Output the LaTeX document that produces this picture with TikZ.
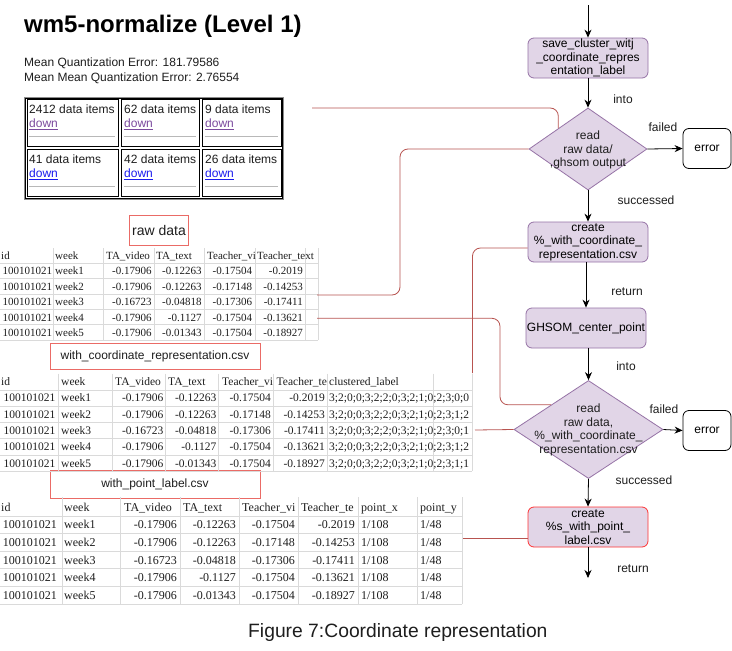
\documentclass[tikz,border=0pt]{standalone}
\usepackage{fontspec}
\setmainfont{Liberation Sans}
\newfontfamily\tabfont{Liberation Serif}
\usetikzlibrary{shapes.geometric,arrows.meta}
\definecolor{pfill}{HTML}{E1D5E7}
\definecolor{pdraw}{HTML}{9673A6}
\definecolor{connc}{HTML}{B85450}
\definecolor{lbox}{HTML}{EA6B66}
\definecolor{boxred}{HTML}{FF3333}
\definecolor{gridc}{HTML}{DADADA}
\definecolor{visitedc}{HTML}{7B4A9E}
\definecolor{linkc}{HTML}{1A1AEE}
\definecolor{txt}{HTML}{1E1E1E}
\begin{document}
\begin{tikzpicture}[x=1pt,y=-1pt,
  f12/.style={font=\fontsize{12}{13.5}\selectfont},
  proc/.style={f12, rectangle, rounded corners=6pt, draw=pdraw, fill=pfill, line width=0.8pt,
    minimum width=120pt, minimum height=40pt, align=center, inner sep=0pt},
  dec/.style={diamond, draw=pdraw, fill=pfill, line width=0.8pt, inner sep=0pt},
  errbox/.style={f12, rectangle, rounded corners=6pt, draw=black, fill=white, line width=0.8pt,
    minimum width=48pt, minimum height=40pt, inner sep=0pt},
  lab/.style={f12, inner sep=0pt, text=txt},
  flow/.style={-{Stealth[length=8pt,width=7pt]}, line width=0.8pt, black},
  conn/.style={draw=connc, line width=0.8pt, rounded corners=8pt},
  fname/.style={draw=lbox, line width=0.8pt, font=\fontsize{12}{14}\selectfont, inner sep=0pt, text=txt},
  gridline/.style={draw=gridc, line width=0.6pt},
  cellbox/.style={draw=black, line width=0.7pt},
  hrule/.style={draw=black!28, line width=1pt},
  tA/.style={font=\tabfont\fontsize{11}{12}\selectfont, inner sep=0pt, text=txt},
  tB/.style={font=\tabfont\fontsize{11.5}{12}\selectfont, inner sep=0pt, text=txt},
  tC/.style={font=\tabfont\fontsize{12}{13}\selectfont, inner sep=0pt, text=txt},
  gtext/.style={f12, inner sep=0pt, anchor=base west, text=txt}
]
\fill[white] (0,0) rectangle (732,651);
\useasboundingbox (0,0) rectangle (732,651);

% ---------- title ----------
\node[anchor=base west, inner sep=0pt, font=\bfseries\fontsize{24}{28}\selectfont, text=black] (title) at (24,32) {wm5-normalize (Level 1)};
\node[gtext] (mqe) at (24,66) {Mean Quantization Error: 181.79586};
\node[gtext] (mmqe) at (24,81) {Mean Mean Quantization Error: 2.76554};

% ---------- grid of clusters ----------
\draw[draw=black!45, line width=0.8pt] (24.4,97.4) rectangle (283.6,199.6);
\draw[draw=black, line width=0.7pt] (25.8,98.8) rectangle (282.2,198.2);
\foreach \xa/\xb [count=\c] in {26.9/118.3, 121.2/199.3, 202.2/281} {
  \foreach \ya/\yb/\hr [count=\r] in {99.6/146.5/136, 149/196.6/186} {
    \draw[cellbox] (\xa,\ya) rectangle (\xb,\yb);
    \draw[hrule] (\xa+2.5,\hr) -- (\xb-3,\hr);
  }
}
\node[gtext] (g11) at (29,113.3) {2412 data items};
\node[gtext] (g12) at (124,113.3) {62 data items};
\node[gtext] (g13) at (205,113.3) {9 data items};
\node[gtext] (g21) at (29,163.3) {41 data items};
\node[gtext] (g22) at (124,163.3) {42 data items};
\node[gtext] (g23) at (205,163.3) {26 data items};
\node[gtext, text=visitedc] (d11) at (29,127.7) {\underline{down}};
\node[gtext, text=visitedc] (d12) at (124,127.7) {\underline{down}};
\node[gtext, text=visitedc] (d13) at (205,127.7) {\underline{down}};
\node[gtext, text=linkc] (d21) at (29,177.3) {\underline{down}};
\node[gtext, text=linkc] (d22) at (124,177.3) {\underline{down}};
\node[gtext, text=linkc] (d23) at (205,177.3) {\underline{down}};

% ---------- file labels ----------
\node[fname, minimum width=59pt, minimum height=30pt, font=\fontsize{14}{16}\selectfont] (rawlab) at (159,230) {raw data};
\node[fname, minimum width=210pt, minimum height=26pt] (coordlab) at (155,356.3) {with\_coordinate\_representation.csv};
\node[fname, minimum width=210pt, minimum height=28pt] (pointlab) at (155,484.2) {with\_point\_label.csv};

% ---------- table 1 : raw data ----------
\foreach \i in {0,...,5} \draw[gridline] (0,263+15.4*\i) -- (318,263+15.4*\i);
\foreach \x in {53,103,154,204,255,305,318} \draw[gridline] (\x,248) -- (\x,340);
\node[tA, anchor=base west] (ah1) at (1,259.5) {id};
\node[tA, anchor=base west] (ah2) at (55,259.5) {week};
\node[tA, anchor=base west] (ah3) at (106,259.5) {TA\_video};
\node[tA, anchor=base west] (ah4) at (156,259.5) {TA\_text};
\node[tA, anchor=base west] (ah5) at (207,259.5) {Teacher\_vi};
\node[tA, anchor=base west] (ah6) at (257,259.5) {Teacher\_text};
\foreach \w/\a/\b/\c/\d [count=\i] in {week1/-0.17906/-0.12263/-0.17504/-0.2019,
    week2/-0.17906/-0.12263/-0.17148/-0.14253,
    week3/-0.16723/-0.04818/-0.17306/-0.17411,
    week4/-0.17906/-0.1127/-0.17504/-0.13621,
    week5/-0.17906/-0.01343/-0.17504/-0.18927} {
  \node[tA, anchor=base east] (a\i c1) at (52.3,259.5+15.4*\i) {100101021};
  \node[tA, anchor=base west] (a\i c2) at (55,259.5+15.4*\i) {\w};
  \node[tA, anchor=base east] (a\i c3) at (151.7,259.5+15.4*\i) {\a};
  \node[tA, anchor=base east] (a\i c4) at (201.7,259.5+15.4*\i) {\b};
  \node[tA, anchor=base east] (a\i c5) at (252.3,259.5+15.4*\i) {\c};
  \node[tA, anchor=base east] (a\i c6) at (303,259.5+15.4*\i) {\d};
}

% ---------- table 2 : with coordinate representation ----------
\foreach \i in {0,...,5} \draw[gridline] (0,389.8+16.3*\i) -- (472,389.8+16.3*\i);
\foreach \x in {58,112,165,218,273,327,433,472} \draw[gridline] (\x,373.5) -- (\x,471.3);
\node[tB, anchor=base west] (bh1) at (1,385.6) {id};
\node[tB, anchor=base west] (bh2) at (61,385.6) {week};
\node[tB, anchor=base west] (bh3) at (115,385.6) {TA\_video};
\node[tB, anchor=base west] (bh4) at (168,385.6) {TA\_text};
\node[tB, anchor=base west] (bh5) at (222,385.6) {Teacher\_vi};
\node[tB, anchor=base west] (bh6) at (276.5,385.6) {Teacher\_te};
\node[tB, anchor=base west] (bh7) at (329,385.6) {clustered\_label};
\foreach \w/\a/\b/\c/\d/\e [count=\i] in {week1/-0.17906/-0.12263/-0.17504/-0.2019/{3;2;0;0;3;2;2;0;3;2;1;0;2;3;0;0},
    week2/-0.17906/-0.12263/-0.17148/-0.14253/{3;2;0;0;3;2;2;0;3;2;1;0;2;3;1;2},
    week3/-0.16723/-0.04818/-0.17306/-0.17411/{3;2;0;0;3;2;2;0;3;2;1;0;2;3;0;1},
    week4/-0.17906/-0.1127/-0.17504/-0.13621/{3;2;0;0;3;2;2;0;3;2;1;0;2;3;1;2},
    week5/-0.17906/-0.01343/-0.17504/-0.18927/{3;2;0;0;3;2;2;0;3;2;1;0;2;3;1;1}} {
  \node[tB, anchor=base east] (b\i c1) at (55.5,385.6+16.3*\i) {100101021};
  \node[tB, anchor=base west] (b\i c2) at (61,385.6+16.3*\i) {\w};
  \node[tB, anchor=base east] (b\i c3) at (163.5,385.6+16.3*\i) {\a};
  \node[tB, anchor=base east] (b\i c4) at (216.5,385.6+16.3*\i) {\b};
  \node[tB, anchor=base east] (b\i c5) at (271,385.6+16.3*\i) {\c};
  \node[tB, anchor=base east] (b\i c6) at (325,385.6+16.3*\i) {\d};
  \node[tB, anchor=base west] (b\i c7) at (329,385.6+16.3*\i) {\e};
}

% ---------- table 3 : with point label ----------
\foreach \i in {0,...,5} \draw[gridline] (0,515.8+17.6*\i) -- (462,515.8+17.6*\i);
\foreach \x in {62,120,180,239,298,358,417,462} \draw[gridline] (\x,497) -- (\x,603.8);
\node[tC, anchor=base west] (ch1) at (1,511.3) {id};
\node[tC, anchor=base west] (ch2) at (64,511.3) {week};
\node[tC, anchor=base west] (ch3) at (124,511.3) {TA\_video};
\node[tC, anchor=base west] (ch4) at (183,511.3) {TA\_text};
\node[tC, anchor=base west] (ch5) at (242,511.3) {Teacher\_vi};
\node[tC, anchor=base west] (ch6) at (301,511.3) {Teacher\_te};
\node[tC, anchor=base west] (ch7) at (361,511.3) {point\_x};
\node[tC, anchor=base west] (ch8) at (420,511.3) {point\_y};
\foreach \w/\a/\b/\c/\d [count=\i] in {week1/-0.17906/-0.12263/-0.17504/-0.2019,
    week2/-0.17906/-0.12263/-0.17148/-0.14253,
    week3/-0.16723/-0.04818/-0.17306/-0.17411,
    week4/-0.17906/-0.1127/-0.17504/-0.13621,
    week5/-0.17906/-0.01343/-0.17504/-0.18927} {
  \node[tC, anchor=base east] (c\i c1) at (57,511.3+17.6*\i) {100101021};
  \node[tC, anchor=base west] (c\i c2) at (64,511.3+17.6*\i) {\w};
  \node[tC, anchor=base east] (c\i c3) at (177,511.3+17.6*\i) {\a};
  \node[tC, anchor=base east] (c\i c4) at (236,511.3+17.6*\i) {\b};
  \node[tC, anchor=base east] (c\i c5) at (295,511.3+17.6*\i) {\c};
  \node[tC, anchor=base east] (c\i c6) at (355,511.3+17.6*\i) {\d};
  \node[tC, anchor=base west] (c\i c7) at (361,511.3+17.6*\i) {1/108};
  \node[tC, anchor=base west] (c\i c8) at (420,511.3+17.6*\i) {1/48};
}

% ---------- flowchart ----------
\coordinate (top) at (588,5);
\node[proc] (b1) at (588,58) {save\_cluster\_witj\\\_coordinate\_repres\\entation\_label};
\node[dec, minimum width=118pt, minimum height=82pt] (d1) at (588,149) {};
\node[f12, align=center, inner sep=0pt, text=txt] (d1t) at (588,150) {read\\raw data/\\,ghsom output};
\node[errbox] (e1) at (707,148.5) {error};
\node[proc] (b2) at (588,242) {create\\\%\_with\_coordinate\_\\representation.csv};
\node[proc] (b3) at (586,328) {GHSOM\_center\_point};
\node[dec, minimum width=149pt, minimum height=98pt] (d2) at (588.5,429.5) {};
\node[f12, align=center, inner sep=0pt, text=txt] (d2t) at (588.5,430) {read\\raw data,\\\%\_with\_coordinate\_\\representation.csv};
\node[errbox] (e2) at (707,430.5) {error};
\node[proc, draw=boxred] (b4) at (588,527) {create\\\%s\_with\_point\_\\label.csv};
\coordinate (bot) at (588,578);

\draw[flow] (top) -- (b1.north);
\draw[flow] (b1.south) -- (d1.north);
\draw[flow] (d1.east) -- (e1.west);
\draw[flow] (d1.south) -- (b2.north);
\draw[flow] (b2.south -| b3.north) -- (b3.north);
\draw[flow] (b3.south -| d2.north) -- (d2.north);
\draw[flow] (d2.east) -- (e2.west);
\draw[flow] (d2.south) -- (b4.north);
\draw[flow] (b4.south) -- (bot);

\node[lab] (into1) at (623,99) {into};
\node[lab] (fail1) at (663,127) {failed};
\node[lab] (succ1) at (646,200) {successed};
\node[lab] (ret1) at (627,292) {return};
\node[lab] (into2) at (626,366) {into};
\node[lab] (fail2) at (664,409.5) {failed};
\node[lab] (succ2) at (644,480) {successed};
\node[lab] (ret2) at (633,569) {return};

% ---------- red connectors ----------
\coordinate (c1s) at (312,108);
\coordinate (c2s) at (317,295);
\coordinate (c3e) at (472.5,373);
\coordinate (c4s) at (317,318.3);
\coordinate (c5s) at (475,430);
\coordinate (c6s) at (463,538);
\draw[conn] (c1s) -| (d1.north west);
\draw[conn] (c2s) -- (400,295) |- (d1.west);
\draw[conn] ([yshift=-6pt]b2.west) -| (c3e);
\draw[conn] (c4s) -- (500,318.3) |- (d2.north west);
\draw[conn] (c5s) -- (d2.west);
\draw[conn] (c6s) -- ([yshift=-11pt]b4.west);

% ---------- caption ----------
\node[anchor=base west, inner sep=0pt, font=\fontsize{19.3}{22}\selectfont, text=txt] (cap) at (248,637) {Figure 7:Coordinate representation};
\end{tikzpicture}
\end{document}
